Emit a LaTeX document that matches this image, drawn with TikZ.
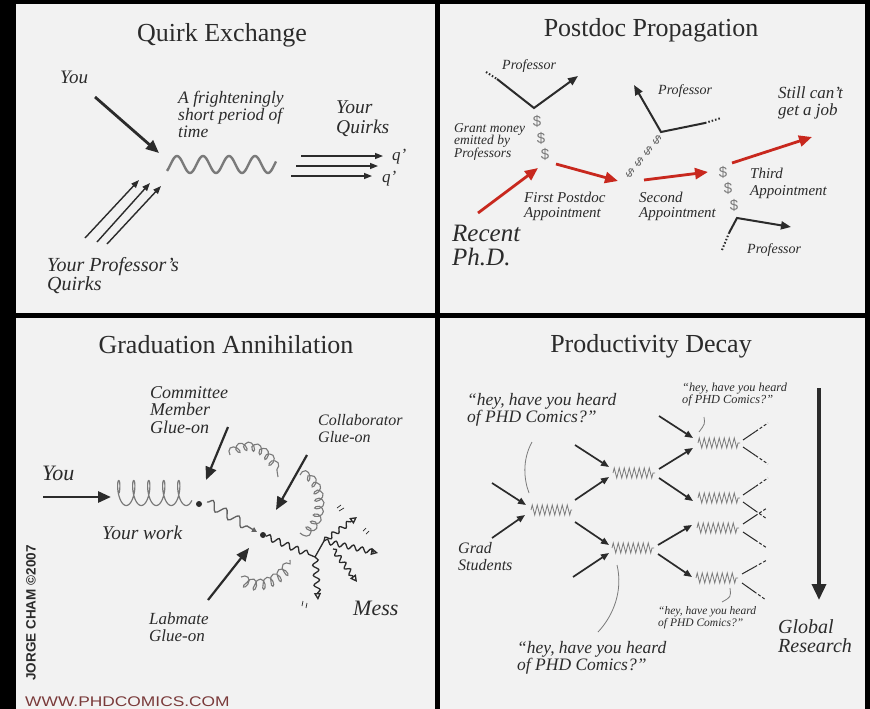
\documentclass[tikz,border=0pt]{standalone}
\usepackage{fontspec}
\setmainfont{Liberation Serif}
\setsansfont{Liberation Sans}
\usetikzlibrary{arrows.meta,decorations.pathmorphing,calc}
\definecolor{panel}{HTML}{F2F2F2}
\definecolor{ink}{HTML}{2B2B2B}
\definecolor{grayink}{HTML}{7A7A7A}
\definecolor{redarrow}{HTML}{C8281E}
\definecolor{webred}{HTML}{7A3A3A}
\newcommand\myfs[2]{\fontsize{#1}{#2}\selectfont}
\tikzset{
  ttl/.style={font=\myfs{26}{28}, text=ink, inner sep=0pt, anchor=base},
  lab/.style={text=ink, inner sep=0pt, anchor=base west, align=left},
  bigarr/.style={ink, line width=2.8pt, -{Triangle[length=13pt,width=11pt]}},
  thinarr/.style={ink, line width=1.4pt, -{Triangle[length=8pt,width=6pt]}},
  medarr/.style={ink, line width=2pt, -{Triangle[length=10pt,width=8pt]}},
  redarr/.style={redarrow, line width=2.8pt, -{Triangle[length=13pt,width=11pt]}},
  pdarr/.style={ink, line width=1.7pt, -{Triangle[length=8pt,width=6.5pt]}},
  dots/.style={ink, line width=2pt, dash pattern=on 1.5pt off 2pt},
  dollar/.style={text=grayink, font=\sffamily\myfs{15}{15}, inner sep=0pt},
  coilsmall/.style={grayink, line width=1.1pt, decorate, decoration={coil, amplitude=5pt, segment length=8pt, aspect=0.6}},
  wig/.style={line width=1.3pt, decorate, decoration={snake, segment length=10pt, amplitude=3pt, post length=4pt}},
  opentip/.style={-{Triangle[open,length=7pt,width=7pt]}},
  zz/.style={grayink, line width=0.8pt, decorate, decoration={zigzag, segment length=5pt, amplitude=5pt}},
  callout/.style={grayink, line width=0.8pt},
  outline/.style={ink, line width=1pt},
  outdots/.style={ink, line width=1pt, dash pattern=on 3pt off 2pt},
}
\begin{document}
\begin{tikzpicture}[x=1pt,y=-1pt]
\useasboundingbox (0,0) rectangle (870,709);
\fill[black] (0,0) rectangle (870,709);
\fill[panel] (16,4) rectangle (435,313);
\fill[panel] (440,4) rectangle (865,313);
\fill[panel] (16,318) rectangle (435,709);
\fill[panel] (440,318) rectangle (865,709);

% ---------- titles
\node[ttl] (t1) at (222,42) {Quirk Exchange};
\node[ttl] (t2) at (651,37) {Postdoc Propagation};
\node[ttl] (t3) at (226,353) {Graduation Annihilation};
\node[ttl] (t4) at (651,352) {Productivity Decay};

% ---------- Panel 1: Quirk Exchange
\node[lab, font=\itshape\myfs{19}{20}] (you1) at (60,84) {You};
\node[lab, font=\itshape\myfs{17.5}{17}] (fright) at (178,137) {A frighteningly\\short period of\\time};
\node[lab, font=\itshape\myfs{19.5}{19.5}] (yq) at (336,133) {Your\\Quirks};
\node[lab, font=\itshape\myfs{17}{16}] (q1) at (392,160) {q'};
\node[lab, font=\itshape\myfs{17}{16}] (q2) at (382,182) {q'};
\node[lab, font=\itshape\myfs{20}{19}] (ypq) at (47,290) {Your Professor's\\Quirks};

\coordinate (y1s) at (95,97); \coordinate (y1e) at (159,153);
\draw[bigarr] (y1s) -- (y1e);
\coordinate (p1s) at (85,238);  \coordinate (p1e) at (139,180);
\coordinate (p2s) at (97,242);  \coordinate (p2e) at (150,183);
\coordinate (p3s) at (107,244); \coordinate (p3e) at (161,186);
\draw[thinarr] (p1s) -- (p1e);
\draw[thinarr] (p2s) -- (p2e);
\draw[thinarr] (p3s) -- (p3e);
\draw[grayink, line width=2.4pt, smooth] plot[domain=-10:99, samples=110] ({177+\x}, {164.5-8.5*cos(\x*13.846)});
\coordinate (r1s) at (301,156); \coordinate (r1e) at (383,156);
\coordinate (r2s) at (296,166); \coordinate (r2e) at (378,166);
\coordinate (r3s) at (291,176); \coordinate (r3e) at (372,176);
\draw[thinarr] (r1s) -- (r1e);
\draw[thinarr] (r2s) -- (r2e);
\draw[thinarr] (r3s) -- (r3e);

% ---------- Panel 2: Postdoc Propagation
\node[lab, font=\itshape\myfs{14}{13}] (prof1) at (502,70) {Professor};
\node[lab, font=\itshape\myfs{14}{13}] (prof2) at (658,94) {Professor};
\node[lab, font=\itshape\myfs{14}{13}] (prof3) at (747,253) {Professor};
\node[lab, font=\itshape\myfs{13.5}{12.5}] (grant) at (454,157) {Grant money\\emitted by\\Professors};
\node[lab, font=\itshape\myfs{15}{14.5}] (first) at (524,217) {First Postdoc\\Appointment};
\node[lab, font=\itshape\myfs{25}{23.5}] (recent) at (452,265) {Recent\\Ph.D.};
\node[lab, font=\itshape\myfs{15}{15}] (second) at (639,217) {Second\\Appointment};
\node[lab, font=\itshape\myfs{15}{16.5}] (third) at (750,195) {Third\\Appointment};
\node[lab, font=\itshape\myfs{17}{17}] (still) at (778,115) {Still can't\\get a job};

% professor 1
\coordinate (pa0) at (486,72); \coordinate (pa1) at (497,79);
\coordinate (pav) at (534,108); \coordinate (pae) at (578,76);
\draw[dots] (pa0) -- (pa1);
\draw[medarr] (pa1) -- (pav) -- (pae);
\node[dollar] (d11) at (537,121) {\$};
\node[dollar] (d12) at (541,138) {\$};
\node[dollar] (d13) at (545,154) {\$};
% professor 2
\coordinate (pbv) at (661,132); \coordinate (pbe) at (634,85);
\coordinate (pb1) at (705,123); \coordinate (pb0) at (721,118);
\draw[medarr] (pb1) -- (pbv) -- (pbe);
\draw[dots] (pb1) -- (pb0);
\foreach \i/\xx/\yy in {1/630/173, 2/639/162, 3/648/151, 4/657/140}
  \node[dollar, text=grayink!85!black, font=\sffamily\myfs{12.5}{12.5}, rotate=-35] (d2\i) at (\xx,\yy) {\$};
% professor 3
\coordinate (pc0) at (722,250); \coordinate (pc1) at (729,233);
\coordinate (pcv) at (737,218); \coordinate (pce) at (791,227);
\draw[dots] (pc0) -- (pc1);
\draw[medarr] (pc1) -- (pcv) -- (pce);
\node[dollar] (d31) at (723,172) {\$};
\node[dollar] (d32) at (728,188) {\$};
\node[dollar] (d33) at (734,205) {\$};
% red career path
\coordinate (ra0) at (478,213); \coordinate (ra1) at (538,168);
\coordinate (rb0) at (556,164); \coordinate (rb1) at (618,181);
\coordinate (rc0) at (644,180); \coordinate (rc1) at (708,172);
\coordinate (rd0) at (732,163); \coordinate (rd1) at (812,137);
\draw[redarr] (ra0) -- (ra1);
\draw[redarr] (rb0) -- (rb1);
\draw[redarr] (rc0) -- (rc1);
\draw[redarr] (rd0) -- (rd1);

% ---------- Panel 3: Graduation Annihilation
\node[lab, font=\itshape\myfs{22}{21}] (you3) at (42,480) {You};
\node[lab, font=\itshape\myfs{19.5}{18}] (work) at (102,539) {Your work};
\node[lab, font=\itshape\myfs{18}{17.5}] (comm) at (150,433) {Committee\\Member\\Glue-on};
\node[lab, font=\itshape\myfs{16}{17}] (collab) at (318,442) {Collaborator\\Glue-on};
\node[lab, font=\itshape\myfs{17}{16.5}] (labm) at (149,641) {Labmate\\Glue-on};
\node[lab, font=\itshape\myfs{22}{21}] (mess) at (353,615) {Mess};

\coordinate (y3s) at (43,497); \coordinate (y3e) at (111,497);
\draw[bigarr] (y3s) -- (y3e);
\coordinate (cw0) at (115,497); \coordinate (cw1) at (190,486);
\draw[grayink, line width=1.2pt, smooth] plot[domain=0.25:5.15, samples=220]
  ({115+15*(\x-0.25)-4.2*sin(360*\x-180)}, {493-12.5*cos(360*\x-180)});
\node[circle, fill=ink, inner sep=0pt, minimum size=6pt] (dot1) at (199,504) {};
\node[circle, fill=ink, inner sep=0pt, minimum size=6pt] (dot2) at (263,535) {};
\coordinate (g0) at (207,502); \coordinate (g1) at (257,532);
\draw[wig, grayink!80!black, decoration={segment length=15pt, amplitude=4.5pt}, -{Triangle[length=5pt,width=5pt]}] (g0) -- (g1);
% committee
\coordinate (ca0) at (228,427); \coordinate (ca1) at (206,480);
\draw[bigarr, line width=2.2pt] (ca0) -- (ca1);
\coordinate (cc0) at (230,455); \coordinate (cc1) at (278,477);
\draw[coilsmall] (cc0) .. controls (248,438) and (272,452) .. (cc1);
% collaborator
\coordinate (la0) at (307,455); \coordinate (la1) at (276,510);
\draw[bigarr, line width=2.2pt] (la0) -- (la1);
\coordinate (lc0) at (300,475); \coordinate (lc1) at (300,533);
\draw[coilsmall] (lc0) .. controls (324,478) and (326,528) .. (lc1);
% labmate
\coordinate (ma0) at (208,600); \coordinate (ma1) at (249,548);
\draw[bigarr, line width=2.2pt] (ma0) -- (ma1);
\coordinate (mc0) at (241,577); \coordinate (mc1) at (290,560);
\draw[coilsmall] (mc0) .. controls (255,592) and (284,580) .. (mc1);
% mess
\coordinate (j1) at (315,557); \coordinate (j2) at (324,541);
\coordinate (j3) at (333,549);
\coordinate (m1) at (318,600); \coordinate (m2) at (357,517);
\coordinate (m3) at (378,553); \coordinate (m4) at (357,582);
\draw[wig, ink] (dot2) -- (j1);
\draw[wig, ink, opentip] (j1) -- (m1);
\draw[ink, line width=1.3pt] (j1) -- (j2);
\draw[wig, ink, opentip, decoration={segment length=9pt, amplitude=2.5pt}] (j2) -- (m2);
\draw[wig, ink, opentip, decoration={segment length=9pt, amplitude=2.5pt}] (j2) -- (m3);
\draw[wig, ink, opentip, decoration={segment length=8pt, amplitude=2.5pt}] (j3) -- (m4);
\draw[ink, line width=0.7pt] (337,508) -- (341,505) (339,511) -- (344,508);
\draw[ink, line width=0.7pt] (363,531) -- (366,528) (366,534) -- (369,531);
\draw[ink, line width=0.7pt] (302,606) -- (303,601) (306,608) -- (307,603);
% signature
\node[text=ink, font=\sffamily\bfseries\myfs{13.5}{13.5}, rotate=90, inner sep=0pt] (sig) at (31,613) {JORGE CHAM \textcopyright 2007};
\node[text=webred, font=\sffamily\myfs{14}{14}, inner sep=0pt, anchor=base west, xscale=1.24] (web) at (25,706) {WWW.PHDCOMICS.COM};

% ---------- Panel 4: Productivity Decay
\node[lab, font=\itshape\myfs{17.5}{17}] (qa) at (467,422) {``hey, have you heard\\of PHD Comics?''};
\node[lab, font=\itshape\myfs{17.5}{17}] (qb) at (517,670) {``hey, have you heard\\of PHD Comics?''};
\node[lab, font=\itshape\myfs{12.3}{11.5}] (qc) at (682,403) {``hey, have you heard\\of PHD Comics?''};
\node[lab, font=\itshape\myfs{11.5}{11.5}] (qd) at (658,626) {``hey, have you heard\\of PHD Comics?''};
\node[lab, font=\itshape\myfs{16}{17}] (grad) at (458,570) {Grad\\Students};
\node[lab, font=\itshape\myfs{20}{19}] (glob) at (778,652) {Global\\Research};

\coordinate (ga0) at (819,388); \coordinate (ga1) at (819,600);
\draw[ink, line width=3.5pt, -{Triangle[length=16pt,width=14pt]}] (ga0) -- (ga1);

% vertices (zigzags)
\foreach \n/\xa/\xb/\yy in {A/531/572/510, B/613/655/473, C/612/654/548, D/698/740/443, E/698/740/498, F/697/739/528, G/696/738/578}{
  \coordinate (\n0) at (\xa,\yy); \coordinate (\n1) at (\xb,\yy);
  \draw[zz] (\n0) -- (\n1);
}
% incoming / outgoing arrows
\foreach \sx/\sy/\ex/\ey in {492/483/526/505, 492/538/525/515, 575/500/609/477, 575/522/609/545,
  575/445/609/467, 573/577/609/553, 659/469/693/448, 659/478/693/501, 659/416/693/438,
  658/545/692/525, 658/554/692/577}{
  \draw[pdarr] (\sx,\sy) -- (\ex,\ey);
}
% fading out lines
\foreach \sx/\sy/\ex/\ey in {743/440/768/423, 743/447/768/464, 743/495/768/478, 743/502/767/519,
  743/524/767/508, 743/532/767/548, 742/574/767/560, 742/583/766/600}{
  \coordinate (o0) at (\sx,\sy); \coordinate (o2) at (\ex,\ey);
  \coordinate (o1) at ($(o0)!0.5!(o2)$);
  \draw[outline] (o0) -- (o1);
  \draw[outdots] (o1) -- (o2);
}
% callouts
\coordinate (ka0) at (532,442); \coordinate (ka1) at (529,493);
\draw[callout] (ka0) .. controls (522,460) and (524,480) .. (ka1);
\coordinate (kb0) at (617,565); \coordinate (kb1) at (598,632);
\draw[callout] (kb0) .. controls (623,590) and (614,615) .. (kb1);
\coordinate (kc0) at (704,417); \coordinate (kc1) at (699,432);
\draw[callout] (kc0) .. controls (705,424) .. (kc1);
\coordinate (kd0) at (730,588); \coordinate (kd1) at (722,602);
\draw[callout] (kd0) .. controls (731,597) .. (kd1);
\end{tikzpicture}
\end{document}
